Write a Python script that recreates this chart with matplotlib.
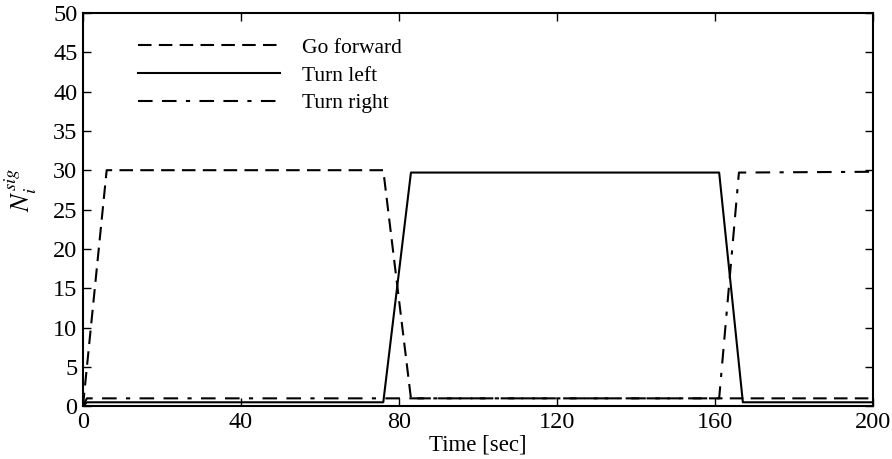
import matplotlib
matplotlib.use("Agg")
import matplotlib.pyplot as plt

plt.rcParams['font.family'] = ['Liberation Serif', 'DejaVu Serif']
plt.rcParams['mathtext.fontset'] = 'stix'

# signal levels
t_forward = [0, 6, 76, 83, 200]
n_forward = [0, 30, 30, 1.0, 1.0]

t_left = [0, 1, 76, 83, 161, 167, 200]
n_left = [0, 0.5, 0.5, 29.7, 29.7, 0.5, 0.5]

t_right = [0, 1, 161, 166, 200]
n_right = [0, 1.0, 1.0, 29.7, 29.8]

labels = ["Go forward", "Turn left", "Turn right"]
xticks = [0, 40, 80, 120, 160, 200]
yticks = [0, 5, 10, 15, 20, 25, 30, 35, 40, 45, 50]

fig = plt.figure(figsize=(8.92, 4.59), dpi=100)
ax = fig.add_axes([0.093, 0.115, 0.886, 0.857])

lw = 1.5
ax.plot(t_forward, n_forward, color='black', lw=lw, dashes=(6.5, 3.5), label=labels[0])
ax.plot(t_left, n_left, color='black', lw=lw, label=labels[1])
ax.plot(t_right, n_right, color='black', lw=lw,
        dashes=(7, 4.5, 7, 4.5, 2, 4.5), label=labels[2])

ax.set_xlim(0, 200)
ax.set_ylim(0, 50)
ax.set_xticks(xticks)
ax.set_yticks(yticks)
ax.tick_params(direction='in', length=6, width=1, labelsize=17.5, pad=4,
               top=True, right=True)
for s in ax.spines.values():
    s.set_linewidth(1.5)

ax.set_xlabel("Time [sec]", fontsize=16.5, labelpad=1)
ax.set_ylabel(r"$N_i^{sig}$", fontsize=19)
ax.yaxis.set_label_coords(-0.055, 0.55)

ax.legend(loc='upper left', bbox_to_anchor=(0.07, 0.937), frameon=False,
          fontsize=15.5, handlelength=6.6, handletextpad=1.0,
          labelspacing=0.36, borderpad=0, borderaxespad=0)

fig.savefig("out.png", dpi=100)
